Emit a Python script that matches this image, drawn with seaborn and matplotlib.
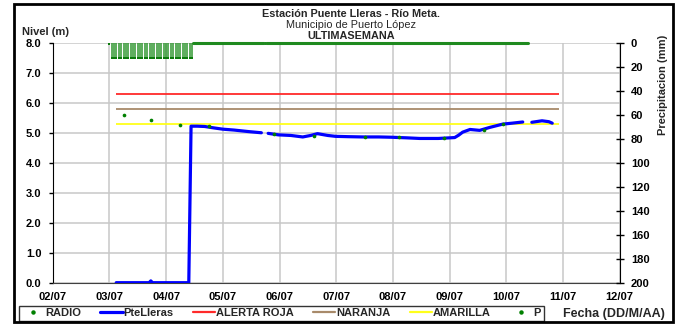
import numpy as np
import pandas as pd
import seaborn as sns
import matplotlib
matplotlib.use("Agg")
from matplotlib import pyplot as plt
from matplotlib.lines import Line2D
from matplotlib.patches import Rectangle

# eje x: dias contados desde 02/07 00:00
fechas = ['02/07', '03/07', '04/07', '05/07', '06/07', '07/07',
          '08/07', '09/07', '10/07', '11/07', '12/07']

# nivel PteLleras (m), tramo = trozo continuo de la serie
nivel_dia = [1.12, 1.70, 1.73, 1.76, 2.40, 2.44, 2.55, 2.68, 2.85, 3.00, 3.20, 3.45, 3.68,
             3.80, 3.98, 4.20, 4.41, 4.55, 4.67, 4.85, 4.99, 5.20, 5.47, 5.75, 5.98,
             6.25, 6.47, 6.80, 7.00, 7.09, 7.16, 7.23, 7.36, 7.53, 7.71, 7.94, 8.10, 8.29,
             8.45, 8.63, 8.75, 8.81]
nivel_m = [0.00, 0.00, 0.06, 0.00, 0.00, 5.23, 5.23, 5.22, 5.17, 5.13, 5.10, 5.05, 5.01,
           4.99, 4.94, 4.92, 4.87, 4.92, 4.98, 4.92, 4.89, 4.88, 4.87, 4.87, 4.86,
           4.84, 4.82, 4.82, 4.84, 4.85, 4.93, 5.03, 5.12, 5.09, 5.19, 5.30, 5.33, 5.37,
           5.36, 5.41, 5.38, 5.33]
nivel_tramo = [0] * 13 + [1] * 25 + [2] * 4

# RADIO (lecturas manuales)
radio_dia = [1.26, 1.74, 2.25, 2.75, 3.90, 4.60, 5.50, 6.10, 6.90, 7.60, 7.95]
radio_m = [5.60, 5.43, 5.27, 5.23, 4.96, 4.90, 4.87, 4.86, 4.82, 5.11, 5.30]

# umbrales de alerta
alertas = ['ALERTA ROJA', 'NARANJA', 'AMARILLA']
alerta_m = [6.3, 5.8, 5.3]
alerta_color = ['#ff2a2a', '#a88a6a', '#ffff1a']
alerta_ini, alerta_fin = 1.12, 8.93

# precipitacion (mm), horas desde 03/07 00:00
p_hora = [0, 1, 2, 3, 4, 5, 6, 7, 8, 9, 10, 11, 12, 13, 14, 15, 16, 17,
          18, 19, 20, 21, 22, 23, 24, 25, 26, 27, 28, 29, 30, 31, 32, 33, 34, 35]
p_mm = [0.5, 12.5, 12.5, 12.5, 12.5, 12.5, 12.5, 12.5, 12.5, 12.5, 12.5, 12.5, 12.5, 12.5,
        12.3, 12.3, 12.3, 12.3, 12.3, 12.3, 12.3, 12.0, 12.0, 12.0, 12.0, 12.0, 12.0, 12.0,
        12.0, 12.0, 12.0, 12.0, 12.0, 12.0, 12.0, 12.0]
p_cero_dia = [2.47, 3.73, np.nan, 3.77, 8.38]
p_cero_mm = [0, 0, np.nan, 0, 0]

sns.set_style("white")
plt.rcParams['font.family'] = ['Liberation Sans', 'DejaVu Sans']
plt.rcParams['font.weight'] = 'bold'
plt.rcParams['font.size'] = 8

fig = plt.figure(figsize=(6.81, 3.24), dpi=100)
ax = fig.add_axes([0.0774, 0.1275, 0.8326, 0.7389])
ax2 = ax.twinx()

nivel = pd.DataFrame({'dia': nivel_dia, 'nivel': nivel_m, 'tramo': nivel_tramo})

ax.set_axisbelow(True)
ax.grid(True, color='#c8c8c8', lw=1.1)
for y, c in zip(alerta_m, alerta_color):
    ax.hlines(y, alerta_ini, alerta_fin, color=c, lw=1.3, zorder=2)
sns.lineplot(data=nivel, x='dia', y='nivel', units='tramo', estimator=None, sort=False,
             color='#0000ff', lw=2.3, ax=ax, zorder=3)
sns.scatterplot(x=radio_dia, y=radio_m, color='#008000', s=7, linewidth=0, ax=ax, zorder=4)

ax.set_xlim(0, 10)
ax.set_ylim(0, 8)
ax.set_xticks(range(len(fechas)))
ax.set_xticklabels(fechas, fontweight='bold')
ax.set_yticks(range(9))
ax.set_yticklabels([f'{v:.1f}' for v in range(9)], fontweight='bold')
ax.set_xlabel('')
ax.set_ylabel('')
ax.tick_params(axis='y', direction='out', length=3, width=1, pad=5, colors='black')
ax.tick_params(axis='x', direction='out', length=3.5, width=1, pad=3, colors='black')
ax.spines['top'].set_visible(False)
ax.spines['right'].set_visible(False)
ax.spines['left'].set_color('black')
ax.spines['bottom'].set_color('#404040')

# precipitacion en eje invertido
p_dia = [1 + h / 24 for h in p_hora]
ax2.vlines(p_dia, 0, p_mm, color='#2f962f', lw=1.1, zorder=3, clip_on=False)
ax2.scatter(p_dia, p_mm, color='#0a7a0a', s=3, marker='s', linewidths=0, zorder=4)
ax2.plot(p_cero_dia, p_cero_mm, color='#1f8a1f', lw=2.2, clip_on=False, zorder=4)
ax2.set_ylim(200, 0)
ax2.set_yticks(range(0, 201, 20))
ax2.set_yticklabels([str(v) for v in range(0, 201, 20)], fontweight='bold')
ax2.tick_params(axis='y', direction='inout', length=6, width=1, pad=5, colors='black')
for s in ['top', 'left', 'bottom']:
    ax2.spines[s].set_visible(False)
ax2.spines['right'].set_color('black')
ax2.grid(False)

fig.text(0.515, 0.946, 'Estación Puente Lleras - Río Meta.', ha='center', va='baseline',
         fontsize=7.8, fontweight='bold')
fig.text(0.515, 0.9136, 'Municipio de Puerto López', ha='center', va='baseline',
         fontsize=7.8, fontweight='normal')
fig.text(0.515, 0.8806, 'ULTIMASEMANA', ha='center', va='baseline',
         fontsize=7.8, fontweight='bold')
fig.text(0.032, 0.901, 'Nivel (m)', ha='left', va='center', fontsize=8, fontweight='bold')
fig.text(0.974, 0.738, 'Precipitacion (mm)', ha='center', va='center', rotation=90,
         fontsize=8, fontweight='bold')
fig.text(0.901, 0.031, 'Fecha (DD/M/AA)', ha='center', va='center',
         fontsize=9, fontweight='bold')

handles = [
    Line2D([], [], color='#008000', marker='o', ls='', ms=2.2),
    Line2D([], [], color='#0000ff', lw=2.3),
    Line2D([], [], color=alerta_color[0], lw=1.6),
    Line2D([], [], color=alerta_color[1], lw=1.6),
    Line2D([], [], color=alerta_color[2], lw=1.6),
    Line2D([], [], color='#008000', marker='o', ls='', ms=2.2),
]
labels = ['RADIO', 'PteLleras'] + alertas + ['P']
leg = fig.legend(handles, labels, loc='lower left', bbox_to_anchor=(0.028, 0.009),
                 ncol=6, frameon=True, fancybox=False, fontsize=8, borderpad=0.25,
                 handlelength=2.0, handletextpad=0.1, columnspacing=1.72,
                 borderaxespad=0)
leg.get_frame().set_edgecolor('black')
leg.get_frame().set_linewidth(1)
for t in leg.get_texts():
    t.set_fontweight('bold')

fig.patches.append(Rectangle((0.0206, 0.006), 0.967, 0.983, transform=fig.transFigure,
                             fill=False, edgecolor='black', lw=2, zorder=10))

fig.savefig('out.png', dpi=100)
